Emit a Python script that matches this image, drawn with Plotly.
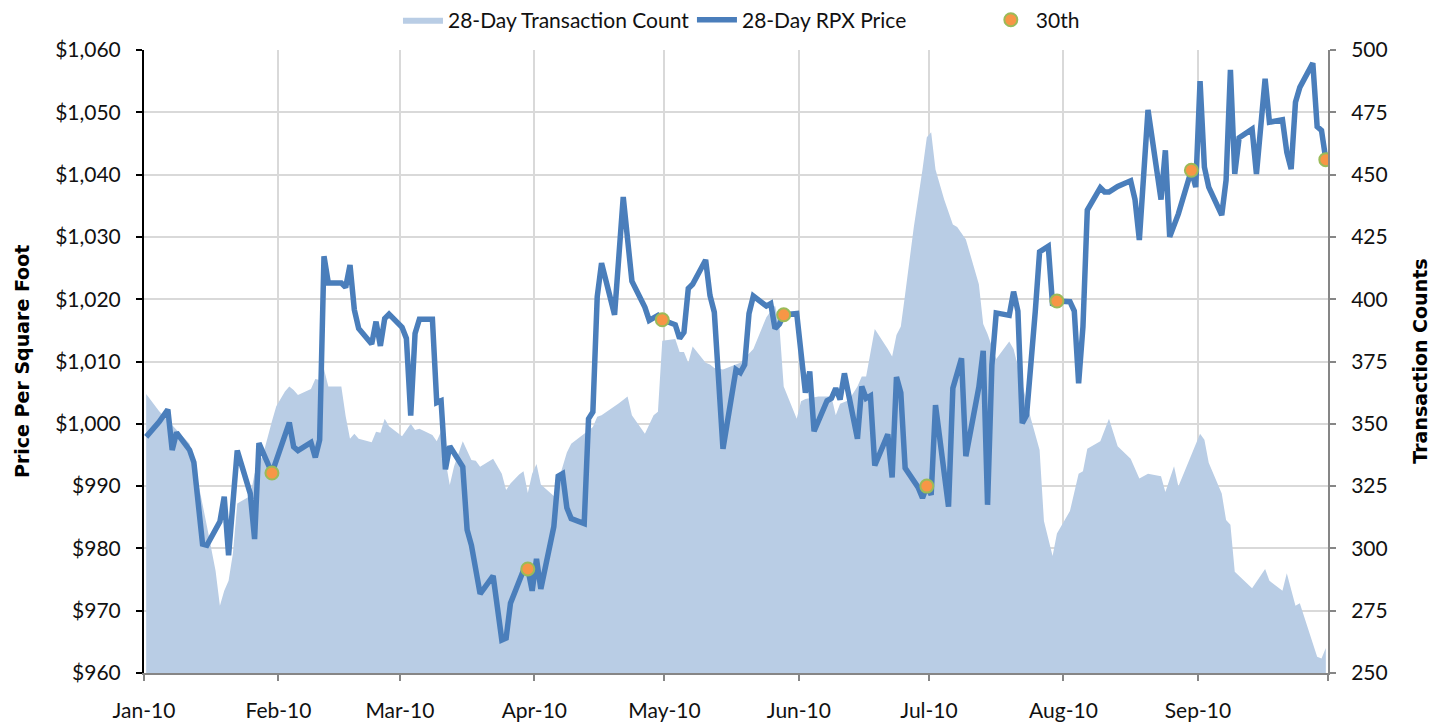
import numpy as np
import pandas as pd
import plotly.graph_objects as go

# ---- Data (day index: 0 = 1 Jan 2010, one value per calendar day) ----
price_day = [0, 3, 5, 6, 7, 10, 11, 13, 14, 17, 18, 19, 21, 24, 25, 26, 29, 33, 34, 35,
             38, 39, 40, 41, 42, 45, 46, 47, 48, 49, 52, 53, 54, 55, 56, 59, 60, 61, 62, 63,
             66, 67, 68, 69, 70, 73, 74, 75, 77, 80, 82, 83, 84, 87, 88, 89, 90, 91, 94, 95,
             96, 97, 98, 101, 102, 103, 104, 105, 108, 110, 112, 115, 116, 118, 119, 122, 123, 124, 125, 126,
             129, 130, 131, 133, 136, 137, 138, 139, 140, 143, 144, 145, 146, 147, 150, 151, 152, 153, 154, 157,
             158, 159, 160, 161, 164, 165, 166, 167, 168, 171, 172, 173, 174, 175, 178, 179, 180, 181, 182, 185,
             186, 188, 189, 192, 193, 194, 195, 196, 199, 200, 201, 202, 203, 205, 206, 208, 209, 210, 213, 214,
             215, 216, 217, 220, 221, 222, 224, 227, 228, 229, 231, 234, 235, 236, 238, 241, 242, 243, 244, 245,
             248, 249, 250, 251, 252, 255, 256, 258, 259, 262, 263, 264, 265, 266, 269, 270, 271, 272]
price_val = [997.9, 1000.3, 1002.3, 995.8, 998.6, 995.8, 993.8, 980.7, 980.5, 984.3, 988.3, 978.9, 995.7, 988.8, 981.5, 996.9, 992.1, 1000.2, 996.3, 995.7,
             997.0, 994.6, 997.4, 1026.9, 1022.6, 1022.6, 1021.9, 1025.5, 1018.3, 1015.3, 1012.8, 1016.4, 1012.5, 1016.9, 1017.6, 1015.5, 1013.7, 1001.3, 1014.5, 1016.8,
             1016.8, 1003.4, 1003.7, 992.7, 996.4, 993.1, 983.0, 980.5, 972.7, 975.6, 965.3, 965.6, 971.2, 976.5, 976.7, 973.2, 978.3, 973.5, 983.5, 991.6,
             992.0, 986.5, 984.8, 984.0, 1000.8, 1001.9, 1020.4, 1025.8, 1017.5, 1036.4, 1022.9, 1018.7, 1016.6, 1017.4, 1016.7, 1015.9, 1013.7, 1014.7, 1021.7, 1022.4,
             1026.3, 1020.6, 1017.9, 996.0, 1008.7, 1008.2, 1009.5, 1017.7, 1020.5, 1018.9, 1019.3, 1015.3, 1016.0, 1017.5, 1017.7, 1010.3, 1005.0, 1008.4, 998.8, 1003.7,
             1004.1, 1005.7, 1003.9, 1008.1, 997.6, 1006.0, 1004.1, 1004.5, 993.3, 998.3, 991.4, 1007.5, 1005.0, 992.9, 989.8, 988.1, 990.0, 988.6, 1003.0, 986.7,
             1005.7, 1010.5, 994.8, 1005.9, 1011.7, 987.0, 1009.4, 1017.8, 1017.4, 1021.2, 1018.1, 1000.1, 1001.4, 1018.0, 1027.6, 1028.5, 1019.0, 1019.7, 1019.6, 1018.1,
             1006.5, 1015.6, 1034.3, 1037.9, 1037.2, 1037.2, 1038.1, 1039.0, 1036.0, 1029.5, 1050.4, 1036.0, 1043.9, 1030.0, 1033.7, 1040.7, 1038.0, 1055.0, 1041.2, 1038.0,
             1033.5, 1039.1, 1056.8, 1040.1, 1045.9, 1047.3, 1040.1, 1055.4, 1048.4, 1048.8, 1043.6, 1040.9, 1051.6, 1054.0, 1057.9, 1047.7, 1047.1, 1042.4]

count_day = [0, 3, 10, 11, 14, 16, 17, 18, 19, 20, 21, 24, 25, 27, 29, 30, 32, 33, 34, 35,
             38, 39, 40, 41, 42, 45, 46, 47, 48, 49, 52, 53, 54, 55, 56, 59, 61, 62, 63, 66,
             67, 68, 69, 70, 71, 73, 75, 76, 77, 80, 82, 83, 84, 86, 87, 88, 89, 90, 91, 94,
             97, 98, 101, 103, 104, 105, 109, 111, 112, 115, 117, 118, 119, 122, 123, 124, 125, 126, 129, 130,
             131, 133, 137, 140, 143, 145, 146, 147, 150, 151, 152, 155, 158, 159, 160, 162, 164, 165, 166, 168,
             171, 172, 173, 174, 175, 177, 179, 180, 181, 182, 184, 186, 187, 189, 192, 193, 194, 196, 199, 200,
             204, 206, 207, 209, 210, 213, 215, 216, 217, 220, 222, 224, 227, 229, 231, 234, 235, 237, 238, 243,
             244, 245, 248, 249, 250, 251, 255, 258, 259, 262, 263, 265, 266, 268, 270, 271, 272]
count_val = [362, 355, 342, 335, 309, 291, 277, 283, 287, 298, 318, 321, 330, 338, 351, 357, 363, 365, 363.6, 361.6,
             364, 368, 367.6, 372, 365, 365, 353, 344, 346, 344, 342.6, 346.8, 346.4, 352, 349, 345, 350, 347.5, 348, 345.5,
             343, 347, 335.5, 325.4, 333, 343, 335.5, 335.2, 332.8, 336, 330, 323.4, 326, 329.7, 331, 322.2, 330, 333.9, 325.6, 321,
             338.5, 342, 346, 348.7, 352.8, 353.4, 358.2, 361, 353.4, 346, 353.4, 354.8, 383.3, 384, 378.8, 378.8, 374.5, 381, 374.5, 373.8,
             372.4, 371.8, 374.5, 380, 392.8, 397.5, 389.4, 365, 352, 359, 360, 361, 361, 353.4, 358, 359.5, 365, 369, 369, 388,
             380, 377, 385.6, 389, 402, 429, 452, 465, 467, 452, 440, 430, 429, 424, 406, 390, 386, 376, 383, 380,
             352, 339.5, 311, 297, 306, 315, 330, 331, 340, 343, 352, 341, 336, 328, 330, 329, 322.6, 333, 324.8, 346,
             343.6, 334.4, 322, 311.4, 309.5, 290.6, 284, 291.7, 287, 283, 290, 277, 278, 267.6, 256.5, 255.8, 260]

# 30th-of-month markers (day index; 28 May used for May)
marker_day = [29, 88, 119, 147, 180, 210, 241, 272]

month_ticks = ["2010-01-01", "2010-02-01", "2010-03-01", "2010-04-01", "2010-05-01",
               "2010-06-01", "2010-07-01", "2010-08-01", "2010-09-01", "2010-10-01"]
month_labels = ["Jan-10", "Feb-10", "Mar-10", "Apr-10", "May-10",
                "Jun-10", "Jul-10", "Aug-10", "Sep-10", ""]

# ---- Build ----
base = pd.Timestamp("2010-01-01")
def to_dates(days):
    # points sit in the middle of their day
    return base + pd.to_timedelta(np.asarray(days, dtype=float) + 0.5, unit="D")

price_map = dict(zip(price_day, price_val))
marker_val = [price_map[d] for d in marker_day]

FONT = "Lato"
TITLE_FONT = "DejaVu Sans"
fig = go.Figure()

fig.add_trace(go.Scatter(
    x=to_dates(count_day), y=count_val, name="28-Day Transaction Count",
    mode="lines", fill="tozeroy", fillcolor="#B9CDE5",
    line=dict(width=0, color="#B9CDE5"), yaxis="y", legend="legend"))

fig.add_trace(go.Scatter(
    x=to_dates(price_day), y=price_val, name="28-Day RPX Price",
    mode="lines", line=dict(color="#4A7EBB", width=5.5), yaxis="y2", legend="legend2"))

fig.add_trace(go.Scatter(
    x=to_dates(marker_day), y=marker_val, name="30th",
    mode="markers", marker=dict(color="#F79646", size=13,
                                line=dict(color="#9BBB59", width=2)),
    yaxis="y2", legend="legend3"))

leg_common = dict(orientation="h", y=1.048, yanchor="middle", xanchor="left",
                  font=dict(size=21), itemwidth=40, bgcolor="rgba(0,0,0,0)")

fig.update_layout(
    width=1446, height=728,
    margin=dict(l=136, r=126, t=42, b=63, autoexpand=False),
    paper_bgcolor="white", plot_bgcolor="white",
    font=dict(family=FONT, size=21, color="#111111"),
    showlegend=True,
    legend=dict(x=0.2145, **leg_common),
    legend2=dict(x=0.4628, **leg_common),
    legend3=dict(x=0.711, **leg_common),
    xaxis=dict(
        type="date", range=["2010-01-01", "2010-10-01"],
        tickvals=month_ticks, ticktext=month_labels,
        showgrid=True, gridcolor="#D9D9D9", gridwidth=2,
        showline=True, linecolor="#868686", linewidth=2,
        ticks="outside", ticklen=6, tickcolor="#868686", tickwidth=2,
        ticklabelstandoff=12,
        tickfont=dict(size=21), zeroline=False, automargin=False),
    yaxis=dict(
        side="right", range=[250, 500], dtick=25, tick0=250,
        showgrid=True, gridcolor="#D9D9D9", gridwidth=2,
        showline=True, linecolor="#868686", linewidth=2,
        ticks="outside", ticklen=6, tickcolor="#868686", tickwidth=2,
        ticklabelstandoff=11,
        tickfont=dict(size=21), zeroline=False, automargin=False),
    yaxis2=dict(
        side="left", overlaying="y", range=[960, 1060], dtick=10, tick0=960,
        tickprefix="$", tickformat=",d", showgrid=False,
        showline=True, linecolor="#000000", linewidth=2,
        ticks="outside", ticklen=6, tickcolor="#000000", tickwidth=2,
        ticklabelstandoff=11,
        tickfont=dict(size=21), zeroline=False, automargin=False),
    annotations=[
        dict(text="<b>Price Per Square Foot</b>", textangle=-90, xref="paper", yref="paper",
             x=-0.1035, y=0.5, xanchor="center", yanchor="middle", showarrow=False,
             font=dict(size=19, family=TITLE_FONT, color="#000000")),
        dict(text="<b>Transaction Counts</b>", textangle=-90, xref="paper", yref="paper",
             x=1.077, y=0.5, xanchor="center", yanchor="middle", showarrow=False,
             font=dict(size=19, family=TITLE_FONT, color="#000000")),
    ],
)

fig.write_html("out.html")
